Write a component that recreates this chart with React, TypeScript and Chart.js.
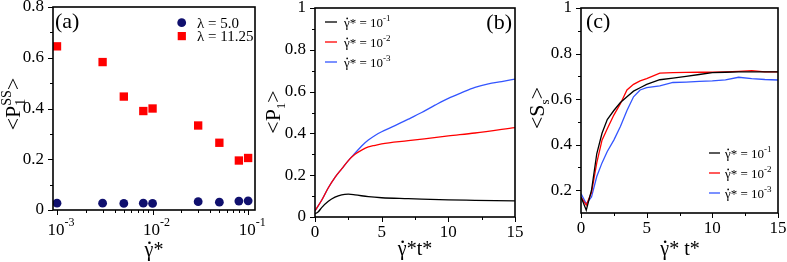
import React, { useEffect, useRef } from "react";
import { Chart, registerables } from "chart.js";
Chart.register(...registerables);

const FONT = '"Liberation Serif", "Times New Roman", serif';

// ---------- Panel (a) data ----------
const shearRates = [0.001, 0.003, 0.005, 0.008, 0.01, 0.03, 0.05, 0.08, 0.1];
const p1Lambda5 = [0.027, 0.027, 0.026, 0.027, 0.026, 0.033, 0.031, 0.035, 0.036];
const p1Lambda1125 = [0.645, 0.583, 0.447, 0.39, 0.4, 0.333, 0.265, 0.195, 0.205];
const logDecades = [-3, -2, -1];
const aYTicks = [0, 0.2, 0.4, 0.6, 0.8];

// ---------- Panel (b) data ----------
const tB1 = [0, 0.25, 0.5, 1, 1.5, 2, 2.5, 3, 4, 5, 7, 10, 12, 15];
const pB1 = [0.015, 0.025, 0.045, 0.075, 0.095, 0.106, 0.109, 0.106, 0.097, 0.092, 0.088, 0.082, 0.08, 0.077];
const tB2 = [0, 0.5, 1, 1.5, 2, 2.5, 3, 3.5, 4, 4.5, 5, 7, 10, 12, 15];
const pB2 = [0.03, 0.08, 0.14, 0.19, 0.23, 0.27, 0.3, 0.32, 0.335, 0.343, 0.35, 0.365, 0.388, 0.402, 0.428];
const tB3 = [0, 0.5, 1, 1.5, 2, 2.5, 3, 3.5, 4, 4.5, 5, 6, 7, 8, 9, 10, 11, 12, 13, 14, 15];
const pB3 = [0.03, 0.08, 0.14, 0.19, 0.23, 0.27, 0.305, 0.34, 0.368, 0.39, 0.408, 0.437, 0.468, 0.5, 0.535, 0.568, 0.595, 0.62, 0.637, 0.648, 0.66];
const bXTicks = [0, 5, 10, 15];
const bYTicks = [0, 0.2, 0.4, 0.6, 0.8, 1];

// ---------- Panel (c) data ----------
const tC = [0, 0.4, 0.8, 1.2, 1.6, 2, 2.5, 3, 3.5, 4, 4.5, 5, 6, 7, 8, 9, 10, 11, 12, 13, 14, 15];
const sC1 = [0.17, 0.112, 0.2, 0.36, 0.45, 0.51, 0.55, 0.585, 0.61, 0.635, 0.65, 0.665, 0.685, 0.692, 0.7, 0.708, 0.716, 0.718, 0.72, 0.72, 0.72, 0.72];
const sC2 = [0.17, 0.135, 0.19, 0.32, 0.42, 0.47, 0.53, 0.58, 0.64, 0.665, 0.68, 0.69, 0.714, 0.716, 0.717, 0.718, 0.718, 0.72, 0.722, 0.725, 0.72, 0.72];
const sC3 = [0.185, 0.14, 0.17, 0.26, 0.32, 0.37, 0.42, 0.48, 0.55, 0.61, 0.64, 0.65, 0.658, 0.673, 0.675, 0.678, 0.68, 0.684, 0.696, 0.69, 0.686, 0.684];
const cXTicks = [0, 5, 10, 15];
const cYTicks = [0.2, 0.4, 0.6, 0.8, 1];

const legendRates = ["-1", "-2", "-3"];
const lineColors = ["#000000", "#ff0000", "#3355ff"];

type Part = { t: string; size: number; dy?: number; dx?: number; dot?: boolean };

function fontOf(size: number) {
  return size + "px " + FONT;
}

function drawRich(ctx: CanvasRenderingContext2D, x: number, y: number, parts: Part[], align: "left" | "center" | "right") {
  let w = 0;
  for (const p of parts) {
    ctx.font = fontOf(p.size);
    w += (p.dx || 0) + ctx.measureText(p.t).width;
  }
  let cx = align === "center" ? x - w / 2 : align === "right" ? x - w : x;
  ctx.textAlign = "left";
  ctx.textBaseline = "alphabetic";
  for (const p of parts) {
    ctx.font = fontOf(p.size);
    cx += p.dx || 0;
    const by = y + (p.dy || 0);
    ctx.fillText(p.t, cx, by);
    const pw = ctx.measureText(p.t).width;
    if (p.dot) {
      ctx.beginPath();
      ctx.arc(cx + pw * 0.55, by - p.size * 0.66, p.size * 0.065, 0, Math.PI * 2);
      ctx.fill();
    }
    cx += pw;
  }
}

interface Deco {
  xMajor: number[];
  xMinor: number[];
  yMajor: number[];
  yMinor: number[];
  extra: (ctx: CanvasRenderingContext2D, chart: any) => void;
}

function decoPlugin(d: Deco) {
  return {
    id: "deco",
    afterDraw(chart: any) {
      const ctx: CanvasRenderingContext2D = chart.ctx;
      const { left, right, top, bottom } = chart.chartArea;
      const xs = chart.scales.x;
      const ys = chart.scales.y;
      ctx.save();
      ctx.strokeStyle = "#000";
      ctx.fillStyle = "#000";
      ctx.lineWidth = 1;
      ctx.beginPath();
      for (const v of d.xMajor) {
        const px = Math.round(xs.getPixelForValue(v)) + 0.5;
        ctx.moveTo(px, bottom);
        ctx.lineTo(px, bottom + 5);
      }
      for (const v of d.xMinor) {
        const px = Math.round(xs.getPixelForValue(v)) + 0.5;
        ctx.moveTo(px, bottom);
        ctx.lineTo(px, bottom + 3);
      }
      for (const v of d.yMajor) {
        const py = Math.round(ys.getPixelForValue(v)) + 0.5;
        ctx.moveTo(left, py);
        ctx.lineTo(left - 5, py);
      }
      for (const v of d.yMinor) {
        const py = Math.round(ys.getPixelForValue(v)) + 0.5;
        ctx.moveTo(left, py);
        ctx.lineTo(left - 3, py);
      }
      ctx.stroke();
      ctx.lineWidth = 1.6;
      ctx.strokeRect(left, top, right - left, bottom - top);
      d.extra(ctx, chart);
      ctx.restore();
    },
  };
}

function yScale(min: number, max: number, ticks: number[], width: number, pad: number) {
  return {
    type: "linear",
    min,
    max,
    afterBuildTicks: (s: any) => {
      s.ticks = ticks.map((v) => ({ value: v }));
    },
    afterFit: (s: any) => {
      s.width = width;
      s.paddingTop = 0;
      s.paddingBottom = 0;
    },
    grid: { display: false, drawTicks: false },
    border: { display: false },
    ticks: { font: { size: 17, family: FONT }, color: "#000", padding: pad, callback: (v: any) => String(v) },
  };
}

function xLinScale(ticks: number[], height: number) {
  return {
    type: "linear",
    min: 0,
    max: 15,
    afterBuildTicks: (s: any) => {
      s.ticks = ticks.map((v) => ({ value: v }));
    },
    afterFit: (s: any) => {
      s.height = height;
      s.paddingLeft = 0;
      s.paddingRight = 0;
    },
    grid: { display: false, drawTicks: false },
    border: { display: false },
    ticks: { font: { size: 17, family: FONT }, color: "#000", padding: 5, maxRotation: 0, callback: (v: any) => String(v) },
  };
}

function drawYTitle(ctx: CanvasRenderingContext2D, cx: number, cy: number, parts: Part[], size: number) {
  ctx.save();
  ctx.translate(cx, cy);
  ctx.rotate(-Math.PI / 2);
  drawRich(ctx, 0, size * 0.35, parts, "center");
  ctx.restore();
}

function drawLineLegend(ctx: CanvasRenderingContext2D, x0: number, x1: number, tx: number, rows: number[]) {
  rows.forEach((ry, i) => {
    ctx.strokeStyle = lineColors[i];
    ctx.lineWidth = 1.3;
    ctx.beginPath();
    ctx.moveTo(x0, ry);
    ctx.lineTo(x1, ry);
    ctx.stroke();
    ctx.fillStyle = "#000";
    drawRich(ctx, tx, ry + 5, [
      { t: "γ", size: 13, dot: true },
      { t: "* = 10", size: 13 },
      { t: legendRates[i], size: 9, dy: -6 },
    ], "left");
  });
}

function configA(): any {
  return {
    type: "scatter",
    data: {
      datasets: [
        {
          label: "λ = 5.0",
          data: shearRates.map((x, i) => ({ x, y: p1Lambda5[i] })),
          pointStyle: "circle",
          pointRadius: 4.4,
          backgroundColor: "#10106e",
          borderColor: "#10106e",
          borderWidth: 0,
        },
        {
          label: "λ = 11.25",
          data: shearRates.map((x, i) => ({ x, y: p1Lambda1125[i] })),
          pointStyle: "rect",
          pointRadius: 5.9,
          backgroundColor: "#ff0000",
          borderColor: "#ff0000",
          borderWidth: 0,
        },
      ],
    },
    options: {
      responsive: false,
      animation: false,
      layout: { padding: { top: 7, right: 20, left: 0, bottom: 0 } },
      plugins: { legend: { display: false }, tooltip: { enabled: false } },
      scales: {
        x: {
          type: "logarithmic",
          min: 0.000908,
          max: 0.118,
          afterFit: (s: any) => {
            s.height = 52;
            s.paddingLeft = 0;
            s.paddingRight = 0;
          },
          grid: { display: false, drawTicks: false },
          border: { display: false },
          ticks: { display: false },
        },
        y: yScale(0, 0.8, aYTicks, 53, 9),
      },
    },
    plugins: [
      decoPlugin({
        xMajor: logDecades.map((e) => Math.pow(10, e)),
        xMinor: [-3, -2].flatMap((e) => [2, 3, 4, 5, 6, 7, 8, 9].map((m) => m * Math.pow(10, e))),
        yMajor: aYTicks,
        yMinor: [0.1, 0.3, 0.5, 0.7],
        extra: (ctx, chart) => {
          const xs = chart.scales.x;
          ctx.fillStyle = "#000";
          for (const e of logDecades) {
            const px = xs.getPixelForValue(Math.pow(10, e));
            ctx.font = fontOf(17);
            const w10 = ctx.measureText("10").width;
            drawRich(ctx, px - w10 / 2 - 1, 235, [
              { t: "10", size: 17 },
              { t: String(e), size: 12, dy: -9 },
            ], "left");
          }
          drawRich(ctx, 55, 28, [{ t: "(a)", size: 22 }], "left");
          ctx.fillStyle = "#10106e";
          ctx.beginPath();
          ctx.arc(181.7, 22.7, 4.4, 0, Math.PI * 2);
          ctx.fill();
          ctx.fillStyle = "#ff0000";
          ctx.fillRect(177.7, 32, 8.2, 8.2);
          ctx.fillStyle = "#000";
          drawRich(ctx, 197, 27.5, [{ t: "λ = 5.0", size: 15 }], "left");
          drawRich(ctx, 197, 41, [{ t: "λ = 11.25", size: 15 }], "left");
          drawRich(ctx, 154, 256, [{ t: "γ", size: 20, dot: true }, { t: "*", size: 20 }], "center");
          drawYTitle(ctx, 12, 104, [
            { t: "<P", size: 22 },
            { t: "1", size: 14, dy: 5 },
            { t: "SS", size: 14, dy: -9, dx: -7 },
            { t: ">", size: 22 },
          ], 22);
        },
      }),
    ],
  };
}

function lineDs(label: string, xs: number[], ys: number[], color: string, tension: number) {
  return {
    label,
    data: xs.map((x, i) => ({ x, y: ys[i] })),
    borderColor: color,
    backgroundColor: color,
    borderWidth: 1.3,
    pointRadius: 0,
    tension,
    cubicInterpolationMode: tension > 0 ? "monotone" : "default",
    fill: false,
  };
}

function configB(): any {
  return {
    type: "line",
    data: {
      datasets: [
        lineDs("10^-1", tB1, pB1, lineColors[0], 0.4),
        lineDs("10^-2", tB2, pB2, lineColors[1], 0.4),
        lineDs("10^-3", tB3, pB3, lineColors[2], 0.4),
      ],
    },
    options: {
      responsive: false,
      animation: false,
      layout: { padding: { top: 8, right: 9, left: 0, bottom: 0 } },
      plugins: { legend: { display: false }, tooltip: { enabled: false } },
      scales: {
        x: xLinScale(bXTicks, 45),
        y: yScale(0, 1, bYTicks, 53, 9),
      },
    },
    plugins: [
      decoPlugin({
        xMajor: bXTicks,
        xMinor: [2.5, 7.5, 12.5],
        yMajor: bYTicks,
        yMinor: [0.1, 0.3, 0.5, 0.7, 0.9],
        extra: (ctx) => {
          ctx.fillStyle = "#000";
          drawRich(ctx, 250, 29, [{ t: "(b)", size: 22 }], "right");
          drawLineLegend(ctx, 63, 75, 82, [22, 42, 62]);
          ctx.fillStyle = "#000";
          drawRich(ctx, 153, 255, [{ t: "γ", size: 20, dot: true }, { t: "*t*", size: 20 }], "center");
          drawYTitle(ctx, 10, 112, [
            { t: "<P", size: 22 },
            { t: "1", size: 13, dy: 5 },
            { t: ">", size: 22 },
          ], 22);
        },
      }),
    ],
  };
}

function configC(): any {
  return {
    type: "line",
    data: {
      datasets: [
        lineDs("10^-1", tC, sC1, lineColors[0], 0),
        lineDs("10^-2", tC, sC2, lineColors[1], 0),
        lineDs("10^-3", tC, sC3, lineColors[2], 0),
      ],
    },
    options: {
      responsive: false,
      animation: false,
      layout: { padding: { top: 8, right: 9, left: 0, bottom: 0 } },
      plugins: { legend: { display: false }, tooltip: { enabled: false } },
      scales: {
        x: xLinScale(cXTicks, 49),
        y: yScale(0.1, 1, cYTicks, 57, 9),
      },
    },
    plugins: [
      decoPlugin({
        xMajor: cXTicks,
        xMinor: [2.5, 7.5, 12.5],
        yMajor: cYTicks,
        yMinor: [0.3, 0.5, 0.7, 0.9],
        extra: (ctx) => {
          ctx.fillStyle = "#000";
          drawRich(ctx, 62, 28, [{ t: "(c)", size: 22 }], "left");
          drawLineLegend(ctx, 185, 196, 201, [153, 173, 193]);
          ctx.fillStyle = "#000";
          drawRich(ctx, 156, 255, [{ t: "γ", size: 20, dot: true }, { t: "* t*", size: 20 }], "center");
          drawYTitle(ctx, 12, 108, [
            { t: "<S", size: 22 },
            { t: "s", size: 13, dy: 5 },
            { t: ">", size: 22 },
          ], 22);
        },
      }),
    ],
  };
}

export default function App() {
  const ra = useRef<HTMLCanvasElement>(null);
  const rb = useRef<HTMLCanvasElement>(null);
  const rc = useRef<HTMLCanvasElement>(null);
  useEffect(() => {
    const a = new Chart(ra.current as HTMLCanvasElement, configA());
    const b = new Chart(rb.current as HTMLCanvasElement, configB());
    const c = new Chart(rc.current as HTMLCanvasElement, configC());
    return () => {
      a.destroy();
      b.destroy();
      c.destroy();
    };
  }, []);
  return (
    <div style={{ position: "absolute", left: 0, top: 0, width: 787, height: 262, background: "#fff" }}>
      <canvas ref={ra} width={275} height={262} style={{ position: "absolute", left: 0, top: 0 }} />
      <canvas ref={rb} width={262} height={262} style={{ position: "absolute", left: 262, top: 0 }} />
      <canvas ref={rc} width={263} height={262} style={{ position: "absolute", left: 524, top: 0 }} />
    </div>
  );
}
